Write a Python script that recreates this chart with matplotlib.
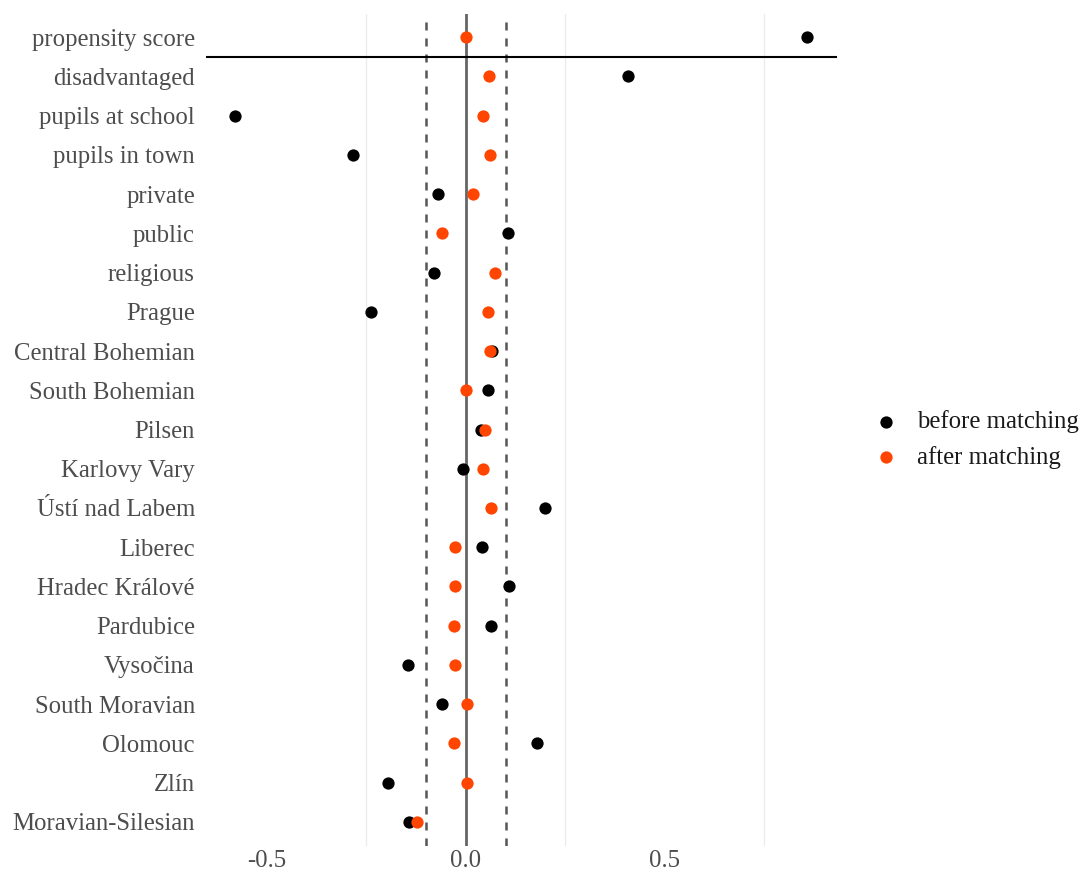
import matplotlib
matplotlib.use("Agg")
import matplotlib.pyplot as plt

variables = ["propensity score", "disadvantaged", "pupils at school", "pupils in town",
             "private", "public", "religious", "Prague", "Central Bohemian",
             "South Bohemian", "Pilsen", "Karlovy Vary", "Ústí nad Labem", "Liberec",
             "Hradec Králové", "Pardubice", "Vysočina", "South Moravian", "Olomouc",
             "Zlín", "Moravian-Silesian"]
before = [0.857, 0.407, -0.580, -0.284, -0.070, 0.106, -0.080, -0.239, 0.065,
          0.055, 0.038, -0.008, 0.198, 0.040, 0.108, 0.063, -0.146, -0.060, 0.178,
          -0.196, -0.143]
after = [0.0, 0.058, 0.043, 0.060, 0.018, -0.060, 0.073, 0.055, 0.060,
         0.0, 0.048, 0.043, 0.063, -0.028, -0.028, -0.030, -0.028, 0.003, -0.030,
         0.003, -0.123]
xticks = [-0.5, 0.0, 0.5]
xtick_labels = ["-0.5", "0.0", "0.5"]
grid_x = [-0.25, 0.25, 0.75]

plt.rcParams['font.family'] = ['Liberation Serif', 'DejaVu Serif']
text_col = "#4D4D4D"
fs = 17.8

fig = plt.figure(figsize=(10.87, 8.75), dpi=100)
ax = fig.add_axes([206/1087, 1-845.5/875, (837-206)/1087, (845.5-13.5)/875])

n = len(variables)
ypos = [n - 1 - i for i in range(n)]

for g in grid_x:
    ax.axvline(g, color="#EBEBEB", lw=0.9, zorder=0)
ax.axvline(0.0, color="#666666", lw=2.0, zorder=1)
for v in (-0.1, 0.1):
    ax.axvline(v, color="#555555", lw=1.8, ls=(0, (3.2, 3.2)), zorder=1)
ax.axhline(n - 1.5, color="black", lw=1.5, zorder=1)

ax.scatter(before, ypos, s=78, color="black", label="before matching", zorder=3, linewidths=0)
ax.scatter(after, ypos, s=78, color="#FF4500", label="after matching", zorder=4, linewidths=0)

ax.set_xlim(-0.652, 0.932)
ax.set_ylim(-0.6, n - 0.4)
ax.set_yticks(ypos)
ax.set_yticklabels(variables)
ax.set_xticks(xticks)
ax.set_xticklabels(xtick_labels)
ax.tick_params(axis="both", length=0, labelsize=fs, labelcolor=text_col)
ax.tick_params(axis="y", pad=8)
ax.tick_params(axis="x", pad=3)
for s in ax.spines.values():
    s.set_visible(False)

leg = ax.legend(loc="center left", bbox_to_anchor=(1.011, 0.488), frameon=False,
                fontsize=fs, handletextpad=0.45, labelspacing=0.52, markerscale=1.0,
                handlelength=1.6)
for t in leg.get_texts():
    t.set_color("#1a1a1a")

fig.savefig("out.png", dpi=100, facecolor="white")
